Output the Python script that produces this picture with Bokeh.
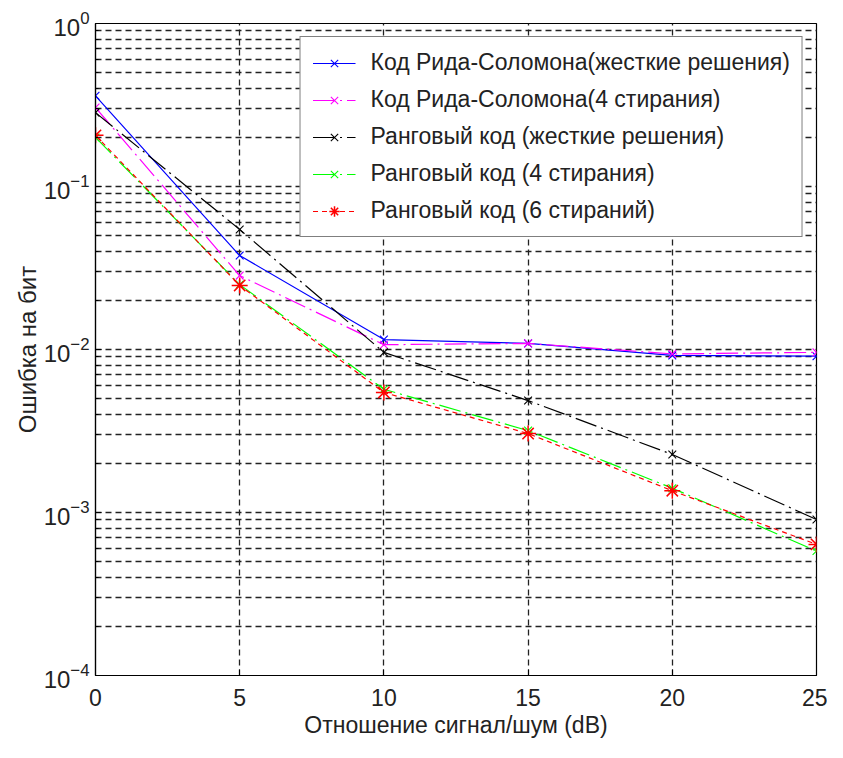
from bokeh.plotting import figure
from bokeh.models import Legend, LegendItem, FixedTicker, LogTickFormatter, Range1d
from bokeh.embed import file_html
from bokeh.resources import INLINE

# ---- data ----
snr_db = [0, 5, 10, 15, 20, 25]
rs_hard = [0.36, 0.0377, 0.0115, 0.0109, 0.0092, 0.0091]
rs_4er = [0.305, 0.0284, 0.0107, 0.0109, 0.0094, 0.0096]
rank_hard = [0.284, 0.0545, 0.0096, 0.00486, 0.00227, 0.000906]
rank_4er = [0.20, 0.025, 0.0057, 0.00318, 0.00141, 0.00058]
rank_6er = [0.206, 0.0247, 0.00545, 0.00305, 0.00136, 0.000637]

labels = [
    "Код Рида-Соломона(жесткие решения)",
    "Код Рида-Соломона(4 стирания)",
    "Ранговый код (жесткие решения)",
    "Ранговый код (4 стирания)",
    "Ранговый код (6 стираний)",
]
x_ticks = [0, 5, 10, 15, 20, 25]
y_major = [1e-4, 1e-3, 1e-2, 1e-1, 1.0]
y_minor = [k * 10.0 ** e for e in (-4, -3, -2, -1) for k in range(2, 10)]

FONT = "Liberation Sans"

p = figure(width=827, height=742, y_axis_type="log",
           x_range=Range1d(0, 25), y_range=Range1d(1e-4, 1.0),
           output_backend="svg", toolbar_location=None,
           min_border_left=95, min_border_right=11,
           min_border_top=23, min_border_bottom=67)
p.outline_line_color = "black"
p.outline_line_width = 1.2
p.background_fill_color = "white"
p.border_fill_color = "white"

# axes
p.xaxis.ticker = FixedTicker(ticks=x_ticks)
p.yaxis.ticker = FixedTicker(ticks=y_major, minor_ticks=y_minor)
p.yaxis.formatter = LogTickFormatter()
for ax in (p.xaxis[0], p.yaxis[0]):
    ax.axis_line_color = "black"
    ax.axis_line_width = 1.2
    ax.major_tick_in = 6
    ax.major_tick_out = 0
    ax.minor_tick_in = 3
    ax.minor_tick_out = 0
    ax.major_tick_line_color = "black"
    ax.minor_tick_line_color = "black"
    ax.major_label_text_font = FONT
    ax.major_label_text_color = "#222222"
    ax.axis_label_text_font = FONT
    ax.axis_label_text_font_style = "normal"
    ax.axis_label_text_color = "#222222"
p.xaxis.major_label_text_font_size = "23px"
p.yaxis.major_label_text_font_size = "24px"
p.xaxis.axis_label_text_font_size = "23px"
p.yaxis.axis_label_text_font_size = "24px"
p.xaxis.minor_tick_line_color = None
p.xaxis.major_label_standoff = 13
p.yaxis.major_label_standoff = 6
p.xaxis.axis_label = "Отношение сигнал/шум (dB)"
p.yaxis.axis_label = "Ошибка на бит"
p.xaxis.axis_label_standoff = 3
p.yaxis.axis_label_standoff = 0

# grid
GRID_DASH = "6 4"
for g in (p.xgrid[0], p.ygrid[0]):
    g.grid_line_color = "#222222"
    g.grid_line_width = 1.3
    g.grid_line_dash = GRID_DASH
p.ygrid.minor_grid_line_color = "#222222"
p.ygrid.minor_grid_line_width = 1.3
p.ygrid.minor_grid_line_dash = GRID_DASH

series = [
    (rs_hard, "#0000ff", "solid", "x", 11),
    (rs_4er, "#ff00ff", "22 5 2 5", "x", 11),
    (rank_hard, "#000000", "22 5 2 5", "x", 11),
    (rank_4er, "#00ff00", "22 5 2 5", "x", 11),
    (rank_6er, "#ff0000", "5 4", "asterisk", 16),
]

items = []
for (vals, color, dash, marker, size), lab in zip(series, labels):
    ln = p.line(snr_db, vals, line_color=color, line_width=1.2, line_dash=dash)
    sc = p.scatter(snr_db, vals, marker=marker, size=size, line_color=color,
                   line_width=1.5 if marker == "asterisk" else 1.1)
    items.append(LegendItem(label=lab, renderers=[ln, sc]))

legend = Legend(items=items, location="top_right")
legend.margin = 13
legend.padding = 12
legend.spacing = 10
legend.label_height = 26
legend.glyph_height = 26
legend.glyph_width = 43
legend.label_standoff = 15
legend.label_text_font = FONT
legend.label_text_font_size = "23px"
legend.label_text_color = "#222222"
legend.border_line_color = "black"
legend.border_line_width = 1.2
legend.background_fill_color = "white"
legend.background_fill_alpha = 1.0
p.add_layout(legend, "center")

open("out.html", "w").write(file_html(p, INLINE))
